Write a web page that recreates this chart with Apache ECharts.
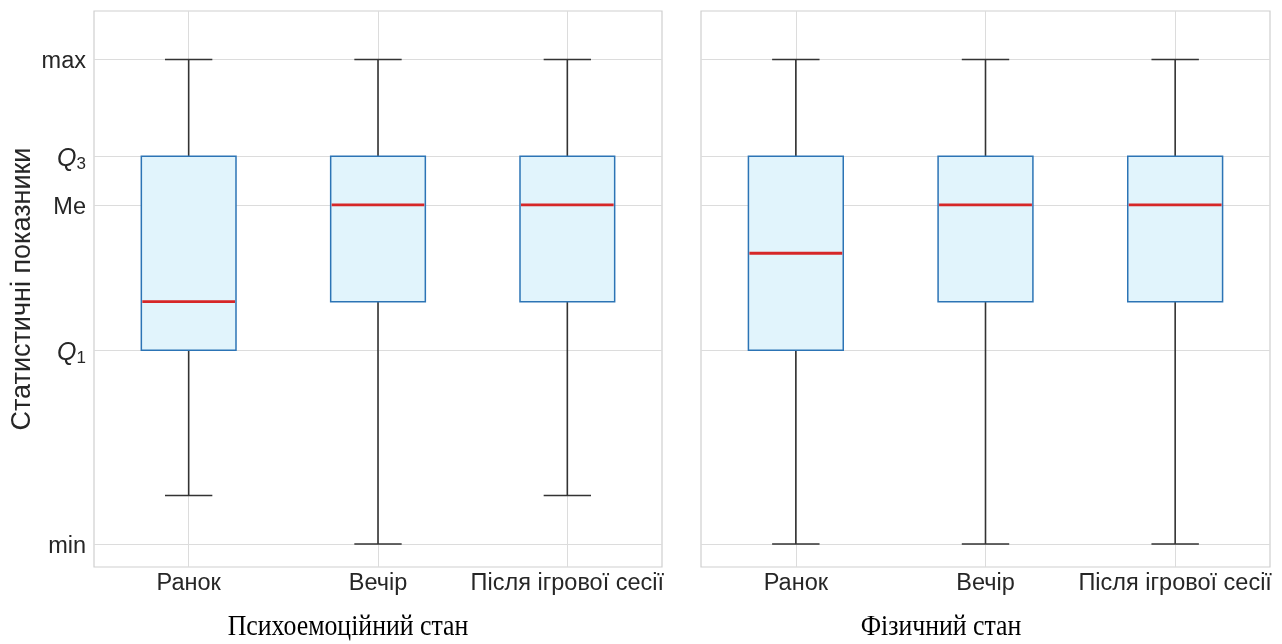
<!DOCTYPE html>
<html><head><meta charset="utf-8">
<script src="https://cdn.jsdelivr.net/npm/echarts@6/dist/echarts.min.js"></script>
<style>html,body{margin:0;padding:0;background:#fff}#c{width:1282px;height:644px}</style>
</head><body><div id="c"></div>
<script>
const categories = ['Ранок', 'Вечір', 'Після ігрової сесії'];
const panelTitles = ['Психоемоційний стан', 'Фізичний стан'];
const yTickValues = [0, 40, 70, 80, 100];
const yTickLabels = ['min', '{q|Q}{s|1}', 'Me', '{q|Q}{s|3}', 'max'];
// [low, Q1, median, Q3, high]
const psychoData = [
  [10, 40, 50, 80, 100],
  [0, 50, 70, 80, 100],
  [10, 50, 70, 80, 100]
];
const physicalData = [
  [0, 40, 60, 80, 100],
  [0, 50, 70, 80, 100],
  [0, 50, 70, 80, 100]
];

const chart = echarts.init(document.getElementById('c'));
const textColor = '#262626';
const gridColor = '#dcdcdc';
const font = 'Liberation Sans, Arial, sans-serif';
const serif = 'Liberation Serif, serif';

function renderBox(params, api) {
  const x = api.value(0);
  const lo = api.value(1), q1 = api.value(2), med = api.value(3), q3 = api.value(4), hi = api.value(5);
  const bw = 0.25, cw = 0.125;
  const pLo = api.coord([x, lo]), pHi = api.coord([x, hi]);
  const pQ1 = api.coord([x, q1]), pQ3 = api.coord([x, q3]);
  const bl = api.coord([x - bw, q1])[0], br = api.coord([x + bw, q1])[0];
  const cl = api.coord([x - cw, lo])[0], cr = api.coord([x + cw, lo])[0];
  const pMed = api.coord([x, med]);
  const wStyle = {stroke: '#333333', lineWidth: 1.6};
  return {
    type: 'group',
    children: [
      {type: 'line', shape: {x1: pLo[0], y1: pLo[1], x2: pQ1[0], y2: pQ1[1]}, style: wStyle},
      {type: 'line', shape: {x1: pQ3[0], y1: pQ3[1], x2: pHi[0], y2: pHi[1]}, style: wStyle},
      {type: 'line', shape: {x1: cl, y1: pLo[1], x2: cr, y2: pLo[1]}, style: wStyle},
      {type: 'line', shape: {x1: cl, y1: pHi[1], x2: cr, y2: pHi[1]}, style: wStyle},
      {type: 'rect', shape: {x: bl, y: pQ3[1], width: br - bl, height: pQ1[1] - pQ3[1]},
        style: {fill: '#e1f4fc', stroke: '#2c74b5', lineWidth: 1.5}},
      {type: 'line', shape: {x1: bl + 1, y1: pMed[1], x2: br - 1, y2: pMed[1]},
        style: {stroke: '#d62728', lineWidth: 2.8}}
    ]
  };
}

function toSeriesData(arr) {
  return arr.map((d, i) => [i + 1].concat(d));
}

function xAxis(gi) {
  return {
    type: 'value', gridIndex: gi, min: 0.5, max: 3.5,
    axisLine: {show: false},
    axisTick: {show: false, customValues: [1, 2, 3]},
    axisLabel: {customValues: [1, 2, 3], color: textColor, fontSize: 23.5, fontFamily: font, margin: 5,
      formatter: v => categories[Math.round(v) - 1] || ''},
    splitLine: {show: true, lineStyle: {color: gridColor, width: 1}}
  };
}
function yAxis(gi, showLabels) {
  const ax = {
    type: 'value', gridIndex: gi, min: -4.75, max: 110,
    axisLine: {show: false},
    axisTick: {show: false, customValues: yTickValues},
    axisLabel: {show: showLabels, customValues: yTickValues, color: textColor, fontSize: 23.5, fontFamily: font, margin: 8,
      padding: [5, 0, 0, 0],
      formatter: v => yTickLabels[yTickValues.indexOf(v)] || '',
      rich: {
        q: {fontStyle: 'italic', fontSize: 25, color: textColor, fontFamily: font, lineHeight: 28, verticalAlign: 'middle'},
        s: {fontSize: 17, color: textColor, fontFamily: font, lineHeight: 28, verticalAlign: 'bottom', padding: [8, 0, 0, 0]}
      }},
    splitLine: {show: true, lineStyle: {color: gridColor, width: 1}}
  };
  if (showLabels) {
    ax.name = 'Статистичні показники';
    ax.nameLocation = 'middle';
    ax.nameGap = 58;
    ax.nameTextStyle = {color: textColor, fontSize: 27, fontFamily: font};
  }
  return ax;
}

chart.setOption({
  animation: false,
  backgroundColor: '#ffffff',
  grid: [
    {left: 94, top: 11, width: 568, height: 556, show: true, borderColor: '#cfcfcf', borderWidth: 1.2},
    {left: 701, top: 11, width: 569, height: 556, show: true, borderColor: '#cfcfcf', borderWidth: 1.2}
  ],
  xAxis: [xAxis(0), xAxis(1)],
  yAxis: [yAxis(0, true), yAxis(1, false)],
  graphic: [
    {type: 'text', x: 348, y: 627, scaleX: 0.86, style: {text: panelTitles[0], fill: '#000', fontSize: 30, fontFamily: serif, align: 'center', verticalAlign: 'middle'}},
    {type: 'text', x: 941, y: 627, scaleX: 0.86, style: {text: panelTitles[1], fill: '#000', fontSize: 30, fontFamily: serif, align: 'center', verticalAlign: 'middle'}}
  ],
  series: [
    {type: 'custom', xAxisIndex: 0, yAxisIndex: 0, renderItem: renderBox, data: toSeriesData(psychoData), encode: {x: 0, y: [1, 2, 3, 4, 5]}},
    {type: 'custom', xAxisIndex: 1, yAxisIndex: 1, renderItem: renderBox, data: toSeriesData(physicalData), encode: {x: 0, y: [1, 2, 3, 4, 5]}}
  ]
});
</script></body></html>
